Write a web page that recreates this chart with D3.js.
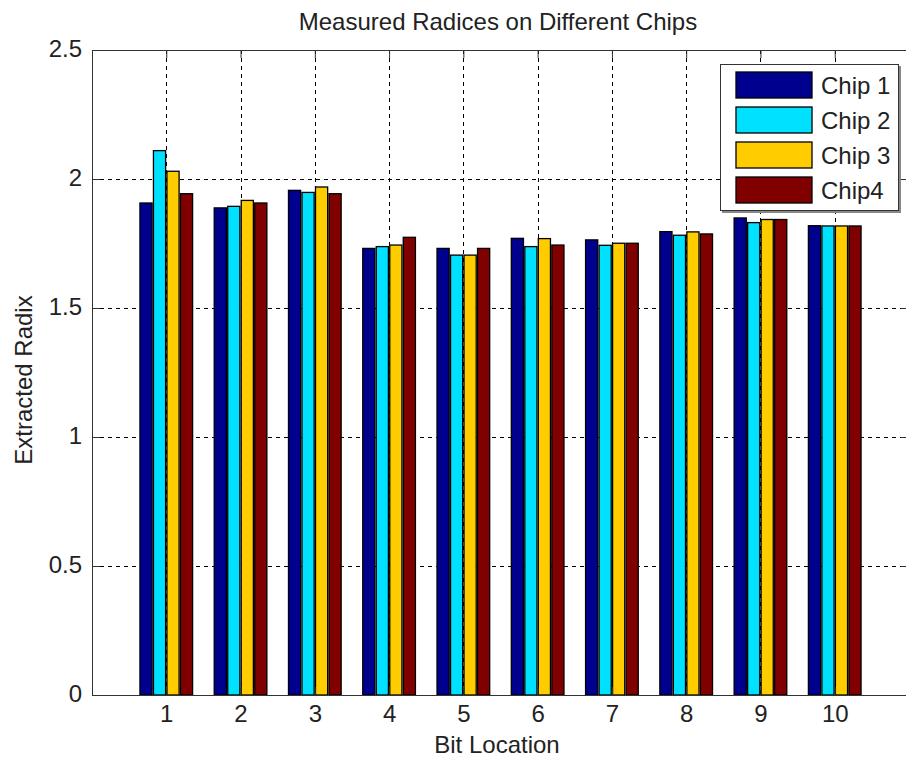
<!DOCTYPE html>
<html>
<head>
<meta charset="utf-8">
<script src="https://cdn.jsdelivr.net/npm/d3@7/dist/d3.min.js"></script>
<style>
  html, body { margin: 0; padding: 0; background: #ffffff; }
  svg { display: block; }
  text { font-family: "Liberation Sans", Arial, sans-serif; fill: #222; }
</style>
</head>
<body>
<svg id="chart" width="906" height="760"></svg>
<script>
// Bit locations along the x axis
const bitLocations = [1, 2, 3, 4, 5, 6, 7, 8, 9, 10];
// Series names shown in the legend
const chipNames = ["Chip 1", "Chip 2", "Chip 3", "Chip4"];
// Extracted radix per bit location for each chip
const chip1 = [1.907, 1.888, 1.956, 1.731, 1.731, 1.770, 1.764, 1.796, 1.849, 1.819];
const chip2 = [2.110, 1.894, 1.948, 1.738, 1.705, 1.738, 1.743, 1.782, 1.831, 1.818];
const chip3 = [2.030, 1.917, 1.969, 1.744, 1.705, 1.769, 1.751, 1.795, 1.843, 1.818];
const chip4 = [1.943, 1.907, 1.943, 1.774, 1.731, 1.744, 1.751, 1.787, 1.843, 1.818];
const chipColors = ["#00008f", "#00e0ff", "#ffcc00", "#800000"];
// Axis tick values
const yTicks = [0, 0.5, 1, 1.5, 2, 2.5];

const series = [chip1, chip2, chip3, chip4];

const svg = d3.select("#chart");
const plotLeft = 92, plotRight = 909, plotTop = 50, plotBottom = 695;

const x = d3.scaleLinear().domain([0, 11]).range([plotLeft, plotRight]);
const y = d3.scaleLinear().domain([0, 2.5]).range([plotBottom, plotTop]);
// Position of each chip's bar inside a group (in x-axis units)
const groupWidth = 4 / 5.5;
const xInner = d3.scaleBand()
  .domain(d3.range(chipNames.length))
  .range([-groupWidth / 2, groupWidth / 2])
  .paddingInner(0.1)
  .paddingOuter(0.05);

const gridStroke = "#000";
const dash = "4,4";

// Dashed grid
svg.append("g").selectAll("line").data(bitLocations).join("line")
  .attr("x1", d => Math.round(x(d)) + 0.5).attr("x2", d => Math.round(x(d)) + 0.5)
  .attr("y1", plotTop).attr("y2", plotBottom)
  .attr("stroke", gridStroke).attr("stroke-width", 1).attr("stroke-dasharray", dash);
svg.append("g").selectAll("line").data(yTicks.filter(t => t > 0 && t < 2.5)).join("line")
  .attr("x1", plotLeft).attr("x2", plotRight)
  .attr("y1", d => Math.round(y(d)) + 0.5).attr("y2", d => Math.round(y(d)) + 0.5)
  .attr("stroke", gridStroke).attr("stroke-width", 1).attr("stroke-dasharray", dash);

// Grouped bars
const bars = svg.append("g");
series.forEach((vals, si) => {
  bars.append("g").selectAll("rect").data(vals).join("rect")
    .attr("x", (d, i) => x(bitLocations[i] + xInner(si)))
    .attr("width", x(xInner.bandwidth()) - x(0))
    .attr("y", d => y(d))
    .attr("height", d => y(0) - y(d))
    .attr("fill", chipColors[si])
    .attr("stroke", "#000")
    .attr("stroke-width", 1.3);
});

// Axes (box with inward ticks)
const axisColor = "#333";
const xAxisB = d3.axisBottom(x).tickValues(bitLocations).tickSize(-8).tickPadding(14).tickFormat(d3.format("d"));
const gxb = svg.append("g").attr("transform", `translate(0,${plotBottom})`).call(xAxisB);
gxb.select(".domain").attr("stroke", axisColor);
gxb.selectAll(".tick line").attr("stroke", axisColor);
gxb.selectAll(".tick text").attr("font-size", 24).attr("fill", "#222")
  .attr("font-family", "Liberation Sans, Arial, sans-serif").attr("dy", "0.55em");

const xAxisT = d3.axisTop(x).tickValues(bitLocations).tickSize(-8).tickFormat("");
const gxt = svg.append("g").attr("transform", `translate(0,${plotTop})`).call(xAxisT);
gxt.select(".domain").attr("stroke", axisColor);
gxt.selectAll(".tick line").attr("stroke", axisColor);

const yAxisL = d3.axisLeft(y).tickValues(yTicks).tickSize(-8).tickPadding(10)
  .tickFormat(d => Number.isInteger(d) ? d3.format("d")(d) : d3.format(".1f")(d));
const gyl = svg.append("g").attr("transform", `translate(${plotLeft},0)`).call(yAxisL);
gyl.select(".domain").attr("stroke", axisColor);
gyl.selectAll(".tick line").attr("stroke", axisColor);
gyl.selectAll(".tick text").attr("font-size", 24).attr("fill", "#222")
  .attr("font-family", "Liberation Sans, Arial, sans-serif").attr("dy", "0.25em");

const yAxisR = d3.axisRight(y).tickValues(yTicks).tickSize(-8).tickFormat("");
const gyr = svg.append("g").attr("transform", `translate(${plotRight},0)`).call(yAxisR);
gyr.select(".domain").attr("stroke", axisColor);
gyr.selectAll(".tick line").attr("stroke", axisColor);

// Titles
svg.append("text").attr("x", 498).attr("y", 30).attr("text-anchor", "middle")
  .attr("font-size", 24).text("Measured Radices on Different Chips");
svg.append("text").attr("x", 497).attr("y", 753).attr("text-anchor", "middle")
  .attr("font-size", 24).text("Bit Location");
svg.append("text").attr("transform", "translate(32,380) rotate(-90)").attr("text-anchor", "middle")
  .attr("font-size", 24).text("Extracted Radix");

// Legend
const legend = svg.append("g");
legend.append("rect").attr("x", 722).attr("y", 66).attr("width", 179).attr("height", 147)
  .attr("fill", "#888");
legend.append("rect").attr("x", 720.5).attr("y", 64.5).attr("width", 178).attr("height", 146)
  .attr("fill", "#fff").attr("stroke", "#333").attr("stroke-width", 1);
const ly = d3.scalePoint().domain(chipNames).range([85, 190]);
chipNames.forEach((name, i) => {
  legend.append("rect").attr("x", 736).attr("y", ly(name) - 13).attr("width", 76).attr("height", 26)
    .attr("fill", chipColors[i]).attr("stroke", "#000").attr("stroke-width", 1.3);
  legend.append("text").attr("x", 821).attr("y", ly(name) + 9).attr("font-size", 24).text(name);
});
</script>
</body>
</html>
